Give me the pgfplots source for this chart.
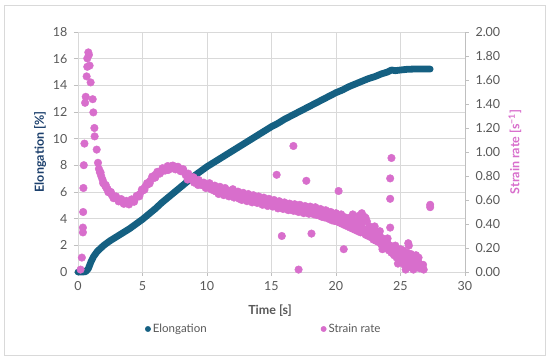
\documentclass[border=0pt]{standalone}
\usepackage{pgfplots}
\pgfplotsset{compat=1.18}
\usepackage{fontspec}
\setmainfont{Lato}
\definecolor{elong}{HTML}{156082}
\definecolor{strain}{HTML}{D86ECC}
\definecolor{elonglab}{HTML}{1B3F6C}
\definecolor{tickc}{HTML}{595959}
\definecolor{gridc}{HTML}{D9D9D9}
\definecolor{axc}{HTML}{BFBFBF}
\definecolor{borderc}{HTML}{D9D9D9}

\pgfplotstableread{
t E
0.00 0.00
0.30 0.00
0.60 0.02
0.80 0.25
1.00 0.75
1.20 1.15
1.50 1.55
2.00 2.00
2.50 2.35
3.00 2.65
3.50 2.95
4.00 3.25
4.50 3.60
5.00 3.95
5.50 4.35
6.00 4.75
6.50 5.20
7.00 5.60
7.50 6.00
8.00 6.40
8.50 6.80
9.00 7.20
9.50 7.55
10.00 7.90
10.50 8.20
11.00 8.50
11.50 8.80
12.00 9.10
12.50 9.40
13.00 9.70
13.50 10.00
14.00 10.30
14.50 10.60
15.00 10.90
15.50 11.15
16.00 11.45
16.50 11.70
17.00 11.95
17.50 12.20
18.00 12.45
18.50 12.70
19.00 12.95
19.50 13.20
20.00 13.45
20.50 13.65
21.00 13.90
21.50 14.10
22.00 14.30
22.50 14.50
23.00 14.65
23.50 14.85
24.00 15.00
24.30 15.15
24.60 15.10
25.00 15.15
25.50 15.20
26.00 15.22
26.50 15.22
27.00 15.22
27.30 15.22
}\elongtable

\pgfplotstableread{
t s
0.20 0.02
0.30 0.12
0.38 0.33
0.38 0.37
0.40 0.50
0.42 0.70
0.45 0.89
0.50 1.07
0.55 1.41
0.60 1.46
0.67 1.63
0.72 1.71
0.72 1.78
0.80 1.83
0.85 1.81
0.90 1.72
0.98 1.58
1.14 1.44
1.19 1.33
1.27 1.20
1.29 1.13
1.45 1.02
1.55 0.91
1.62 0.86
1.70 0.83
1.75 0.83
1.80 0.80
1.90 0.77
1.95 0.74
2.00 0.74
2.10 0.72
2.15 0.725
2.20 0.70
2.30 0.69
2.35 0.665
2.40 0.67
2.50 0.66
2.55 0.667
2.60 0.645
2.70 0.635
2.75 0.615
2.80 0.625
2.90 0.62
2.95 0.63
3.00 0.61
3.15 0.588
3.20 0.60
3.35 0.608
3.40 0.59
3.50 0.58
3.55 0.568
3.60 0.585
3.75 0.593
3.80 0.575
3.95 0.563
4.00 0.58
4.15 0.605
4.20 0.595
4.35 0.585
4.40 0.605
4.55 0.635
4.60 0.63
4.75 0.63
4.80 0.65
4.95 0.687
5.00 0.68
5.15 0.685
5.20 0.71
5.35 0.74
5.40 0.73
5.55 0.737
5.60 0.76
5.75 0.795
5.80 0.785
5.95 0.785
6.00 0.81
6.00 0.79
6.15 0.835
6.20 0.825
6.35 0.82
6.40 0.835
6.55 0.865
6.60 0.855
6.75 0.845
6.80 0.86
6.95 0.883
7.00 0.87
7.00 0.85
7.15 0.86
7.20 0.88
7.35 0.887
7.40 0.865
7.55 0.855
7.60 0.875
7.75 0.877
7.80 0.855
7.95 0.84
8.00 0.855
8.15 0.857
8.20 0.84
8.35 0.807
8.40 0.815
8.50 0.77
8.55 0.82
8.60 0.80
8.75 0.775
8.80 0.785
8.95 0.79
9.00 0.78
9.00 0.745
9.15 0.747
9.20 0.76
9.30 0.725
9.35 0.767
9.40 0.755
9.55 0.725
9.60 0.735
9.75 0.745
9.80 0.735
9.90 0.70
9.95 0.705
10.00 0.715
10.15 0.705
10.20 0.74
10.30 0.69
10.35 0.70
10.40 0.71
10.50 0.68
10.55 0.695
10.60 0.72
10.70 0.67
10.75 0.69
10.80 0.70
10.90 0.65
10.95 0.68
11.00 0.71
11.10 0.66
11.15 0.675
11.20 0.69
11.30 0.64
11.35 0.67
11.40 0.70
11.50 0.655
11.55 0.66
11.60 0.68
11.70 0.63
11.75 0.655
11.80 0.67
11.90 0.64
11.95 0.65
12.00 0.69
12.10 0.62
12.15 0.645
12.20 0.66
12.30 0.63
12.35 0.64
12.40 0.67
12.50 0.61
12.55 0.63
12.60 0.65
12.70 0.60
12.75 0.625
12.80 0.66
12.90 0.61
12.95 0.62
13.00 0.64
13.10 0.59
13.15 0.615
13.20 0.65
13.30 0.60
13.35 0.61
13.40 0.63
13.50 0.58
13.55 0.61
13.60 0.64
13.70 0.59
13.75 0.605
13.80 0.62
13.90 0.575
13.95 0.60
14.00 0.63
14.10 0.585
14.15 0.595
14.20 0.61
14.30 0.56
14.35 0.59
14.40 0.62
14.50 0.575
14.55 0.585
14.60 0.60
14.70 0.55
14.75 0.575
14.80 0.61
14.90 0.56
14.95 0.57
15.00 0.59
15.10 0.545
15.15 0.565
15.20 0.60
15.30 0.55
15.35 0.56
15.40 0.58
15.50 0.53
15.55 0.56
15.60 0.59
15.70 0.54
15.75 0.555
15.80 0.57
15.90 0.525
15.95 0.55
16.00 0.58
16.10 0.53
16.15 0.545
16.20 0.565
16.30 0.515
16.35 0.54
16.40 0.57
16.50 0.52
16.55 0.54
16.60 0.555
16.70 0.51
16.75 0.535
16.80 0.565
16.90 0.51
16.95 0.53
17.00 0.55
17.10 0.50
17.15 0.525
17.20 0.56
17.30 0.505
17.35 0.52
17.40 0.54
17.50 0.49
17.55 0.52
17.60 0.55
17.70 0.50
17.75 0.515
17.80 0.535
17.90 0.485
17.95 0.515
18.00 0.545
18.10 0.49
18.15 0.51
18.20 0.53
18.30 0.48
18.35 0.505
18.40 0.54
18.50 0.475
18.55 0.50
18.60 0.52
18.70 0.47
18.75 0.495
18.80 0.525
18.90 0.46
18.95 0.49
19.00 0.51
19.10 0.455
19.15 0.485
19.20 0.515
19.30 0.45
19.35 0.48
19.40 0.50
19.50 0.44
19.55 0.47
19.60 0.50
19.70 0.43
19.75 0.465
19.80 0.485
19.90 0.425
19.95 0.455
20.00 0.49
20.10 0.42
20.15 0.45
20.20 0.47
20.30 0.41
20.35 0.44
20.40 0.48
20.50 0.40
20.55 0.43
20.60 0.46
20.70 0.39
20.75 0.42
20.80 0.45
20.90 0.38
20.95 0.41
21.00 0.45
21.10 0.37
21.15 0.40
21.20 0.44
21.30 0.36
21.30 0.48
21.35 0.395
21.40 0.43
21.50 0.35
21.55 0.385
21.60 0.42
21.70 0.34
21.75 0.38
21.80 0.43
21.80 0.47
21.90 0.33
21.95 0.37
22.00 0.41
22.00 0.49
22.10 0.33
22.15 0.36
22.20 0.46
22.30 0.31
22.30 0.45
22.35 0.35
22.40 0.42
22.50 0.30
22.55 0.335
22.60 0.38
22.70 0.29
22.75 0.32
22.80 0.36
22.90 0.27
22.95 0.30
23.00 0.34
23.00 0.38
23.10 0.26
23.15 0.29
23.20 0.32
23.30 0.25
23.35 0.27
23.40 0.30
23.40 0.34
23.50 0.23
23.55 0.255
23.60 0.28
23.60 0.19
23.70 0.22
23.75 0.235
23.80 0.26
23.90 0.20
23.95 0.215
24.00 0.24
24.00 0.28
24.10 0.18
24.15 0.195
24.20 0.22
24.30 0.16
24.35 0.175
24.40 0.20
24.50 0.14
24.55 0.155
24.60 0.18
24.60 0.22
24.70 0.12
24.75 0.14
24.80 0.17
24.80 0.07
24.90 0.10
24.95 0.125
25.00 0.16
25.00 0.19
25.10 0.08
25.15 0.11
25.20 0.14
25.20 0.18
25.30 0.06
25.35 0.10
25.40 0.13
25.40 0.02
25.50 0.05
25.50 0.16
25.55 0.09
25.60 0.24
25.65 0.22
25.70 0.11
25.75 0.04
25.80 0.15
25.85 0.08
25.90 0.06
26.00 0.12
26.00 0.02
26.05 0.07
26.10 0.04
26.20 0.10
26.20 0.14
26.25 0.065
26.30 0.05
26.40 0.08
26.40 0.12
26.45 0.06
26.50 0.03
26.60 0.06
26.70 0.04
26.75 0.06
26.80 0.02
15.40 0.81
16.70 1.05
17.70 0.76
20.20 0.675
15.80 0.30
18.10 0.32
20.60 0.19
17.10 0.02
24.30 0.95
24.20 0.78
24.20 0.61
24.20 0.37
27.30 0.56
27.30 0.54
}\straintable

\begin{document}
\begin{tikzpicture}[x=1pt,y=1pt]
\useasboundingbox (0,0) rectangle (550,361);
\fill[white] (0,0) rectangle (550,361);
\draw[borderc, line width=1pt] (4.5,5.5) rectangle (545.5,355.5);
\pgfplotsset{
  common/.style={
    at={(78pt,89pt)}, anchor=south west,
    scale only axis, width=387pt, height=240pt,
    xmin=0, xmax=30, clip=false,
    tick align=outside, major tick length=4pt,
    tick style={axc, line width=0.8pt},
    ticklabel style={font=\fontsize{12.5}{14}\selectfont, text=tickc},
    /pgf/number format/assume math mode=true,
  }
}
\begin{axis}[common,
  ymin=0, ymax=18,
  xtick={0,5,...,30}, ytick={0,2,...,18},
  xtick pos=bottom, ytick pos=left,
  grid=major, major grid style={gridc, line width=0.8pt},
  axis line style={gridc, line width=0.8pt},
  xlabel={Time [s]},
  xlabel style={at={(axis description cs:0.496,-0.161)}, anchor=center, font=\bfseries\fontsize{12.5}{14}\selectfont, text=tickc},
  ylabel={Elongation [\%]},
  ylabel style={at={(axis description cs:-0.098,0.5)}, anchor=center, font=\bfseries\fontsize{12.5}{14}\selectfont, text=elonglab},
  yticklabel style={xshift=-3pt},
  xticklabel style={yshift=-2pt},
]
\addplot[elong, line width=6.8pt, line cap=round, line join=round] table[x=t, y=E] {\elongtable};
\end{axis}
\begin{axis}[common,
  ymin=0, ymax=2,
  axis x line=none, axis y line*=right,
  ytick={0,0.2,...,2.0},
  axis line style={axc, line width=0.8pt},
  yticklabel style={/pgf/number format/.cd, fixed, fixed zerofill, precision=2, /tikz/.cd, xshift=3pt},
  ylabel={Strain rate [s\textsuperscript{−1}]},
  ylabel style={at={(axis description cs:1.129,0.5)}, anchor=center, font=\bfseries\fontsize{12.5}{14}\selectfont, text=strain},
  legend style={at={(axis description cs:0.48,-0.2375)}, anchor=center, draw=none, fill=none,
    font=\fontsize{11.5}{13}\selectfont, text=tickc,
    /tikz/every even column/.append style={column sep=112pt}},
  legend columns=2,
  legend image code/.code={\fill[#1] (2pt,0pt) circle (2.7pt);},
]
\addlegendimage{fill=elong, draw=elong}
\addlegendentry{Elongation}
\addplot[only marks, mark=*, mark size=3.8pt, color=strain, mark options={draw=strain, fill=strain}] table[x=t, y=s] {\straintable};
\addlegendentry{Strain rate}
\end{axis}
\end{tikzpicture}
\end{document}
